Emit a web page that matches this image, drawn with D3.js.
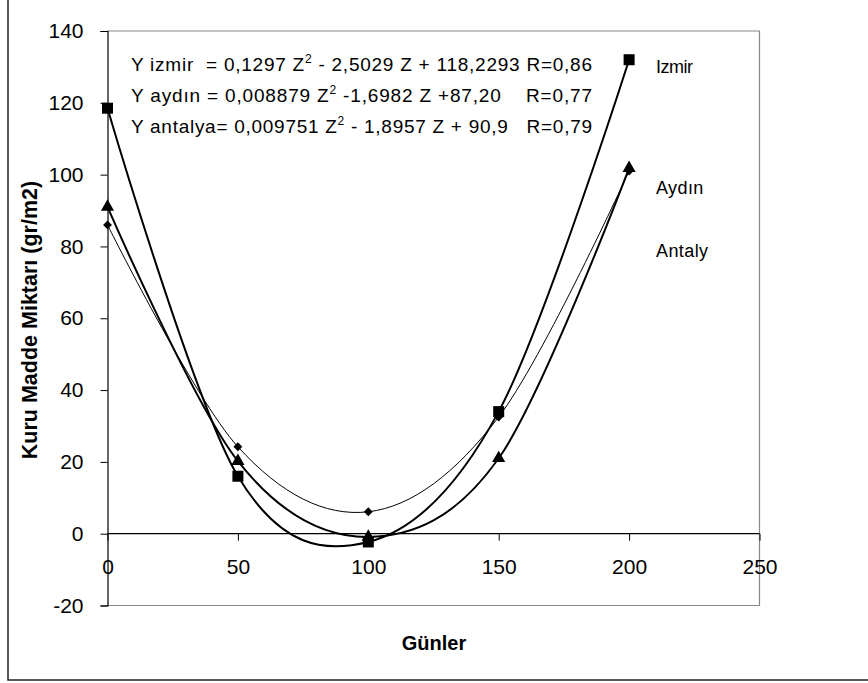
<!DOCTYPE html>
<html><head><meta charset="utf-8">
<script src="https://cdn.jsdelivr.net/npm/d3@7"></script>
<style>
html,body{margin:0;padding:0;background:#fff;}
svg{display:block;font-family:"Liberation Sans",Arial,sans-serif;}
</style></head><body>
<svg id="chart" width="868" height="683"></svg>
<script>
const days = [0, 50, 100, 150, 200];
const izmir = [118.5, 16, -2.3, 34, 132];
const aydin = [91, 20.2, -0.9, 21, 101.8];
const antalya = [86, 24.2, 6.1, 32.5, 101];
const xTicks = [0, 50, 100, 150, 200, 250];
const yTicks = [-20, 0, 20, 40, 60, 80, 100, 120, 140];
const seriesNames = ["Izmir", "Aydın", "Antaly", "a"];
const equations = [
  ["Y izmir  = 0,1297 Z", "2", " - 2,5029 Z + 118,2293 R=0,86"],
  ["Y aydın = 0,008879 Z", "2", " -1,6982 Z +87,20    R=0,77"],
  ["Y antalya= 0,009751 Z", "2", " - 1,8957 Z + 90,9   R=0,79"]
];
const yTitle = "Kuru Madde Miktarı (gr/m2)";
const xTitle = "Günler";

const svg = d3.select("#chart");
const L = 107.5, R = 759.5, T = 31, B = 605.5;
const x = d3.scaleLinear().domain([0, 250]).range([L, R]);
const y = d3.scaleLinear().domain([-20, 140]).range([B, T]);

// outer frame (left and bottom visible)
svg.append("path").attr("d", `M8,-2 V680 H880`).attr("fill", "none").attr("stroke", "#222").attr("stroke-width", 1.5);

// plot area border (gray)
svg.append("path").attr("d", `M${L},${T} H${R} V${B} H${L}`).attr("fill", "none").attr("stroke", "#888").attr("stroke-width", 1.2);

// y axis
const yAxis = svg.append("g").attr("transform", `translate(${L},0)`)
  .call(d3.axisLeft(y).tickValues(yTicks).tickSize(7).tickPadding(17).tickFormat(d => String(d)));
yAxis.select(".domain").attr("stroke", "#000").attr("stroke-width", 1.2);
yAxis.selectAll(".tick line").attr("stroke", "#000");
yAxis.selectAll("text").attr("font-size", 21).attr("fill", "#000").attr("font-family", "Liberation Sans, Arial, sans-serif");

// x axis at y=0
const xAxis = svg.append("g").attr("transform", `translate(0,${y(0)})`)
  .call(d3.axisBottom(x).tickValues(xTicks).tickSize(7).tickPadding(8).tickFormat(d => String(d)));
xAxis.select(".domain").attr("stroke", "#000").attr("stroke-width", 1.2).attr("d", `M${L},0H${R}`);
xAxis.selectAll(".tick line").attr("stroke", "#000");
xAxis.selectAll("text").attr("font-size", 21).attr("fill", "#000").attr("font-family", "Liberation Sans, Arial, sans-serif")
  .attr("dy", null).attr("y", 40);

// curves
const line = d3.line().x((d, i) => x(days[i])).y(d => y(d)).curve(d3.curveCardinal.tension(0));
svg.append("path").datum(antalya).attr("d", line).attr("fill", "none").attr("stroke", "#000").attr("stroke-width", 1);
svg.append("path").datum(aydin).attr("d", line).attr("fill", "none").attr("stroke", "#000").attr("stroke-width", 2);
svg.append("path").datum(izmir).attr("d", line).attr("fill", "none").attr("stroke", "#000").attr("stroke-width", 2);

// markers
svg.append("g").selectAll("path").data(antalya).join("path")
  .attr("transform", (d, i) => `translate(${x(days[i])},${y(d)})`)
  .attr("d", d3.symbol(d3.symbolDiamond2, 50)).attr("fill", "#000");
svg.append("g").selectAll("path").data(aydin).join("path")
  .attr("transform", (d, i) => `translate(${x(days[i])},${y(d)})`)
  .attr("d", d3.symbol(d3.symbolTriangle, 75)).attr("fill", "#000");
svg.append("g").selectAll("rect").data(izmir).join("rect")
  .attr("x", (d, i) => x(days[i]) - 5.5).attr("y", d => y(d) - 5.5)
  .attr("width", 11).attr("height", 11).attr("fill", "#000");

// equations
const eqBase = [71, 102, 133];
equations.forEach((eq, k) => {
  const t = svg.append("text").attr("x", 131).attr("y", eqBase[k]).attr("font-size", 19)
    .attr("fill", "#000").style("white-space", "pre")
    .attr("textLength", 461).attr("lengthAdjust", "spacing");
  t.append("tspan").text(eq[0]);
  t.append("tspan").attr("font-size", 12).attr("dy", -8).text(eq[1]);
  t.append("tspan").attr("dy", 8).text(eq[2]);
});

// legend labels
svg.append("defs").append("clipPath").attr("id", "legclip")
  .append("rect").attr("x", 640).attr("y", 0).attr("width", 118).attr("height", 266);
const leg = svg.append("g").attr("clip-path", "url(#legclip)").attr("font-size", 18).attr("fill", "#000");
const legY = [73, 194, 257, 283];
seriesNames.forEach((n, i) => {
  leg.append("text").attr("x", 656).attr("y", legY[i]).text(n)
    .attr("letter-spacing", i === 0 ? -0.5 : 0.4);
});

// axis titles
svg.append("text").attr("transform", `translate(37,320) rotate(-90)`).attr("text-anchor", "middle")
  .attr("font-size", 21.5).attr("font-weight", "bold").attr("fill", "#000").text(yTitle);
svg.append("text").attr("x", 434).attr("y", 650).attr("text-anchor", "middle")
  .attr("font-size", 20).attr("font-weight", "bold").attr("fill", "#000").text(xTitle);
</script>
</body></html>
